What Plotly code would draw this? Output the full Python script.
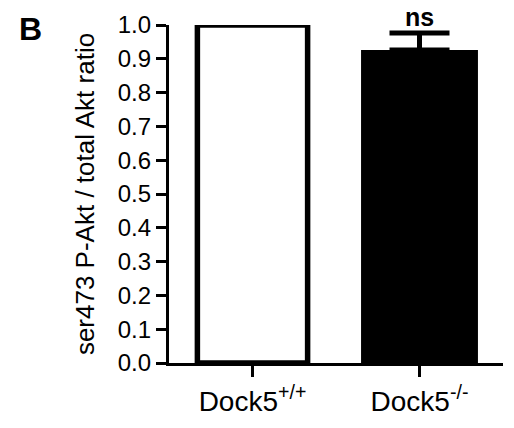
import plotly.graph_objects as go

categories = ["Dock5+/+", "Dock5-/-"]
tick_labels = ["Dock5<sup>+/+</sup>", "Dock5<sup>-/-</sup>"]
values = [1.0, 0.926]
err_up = [0.0, 0.050]
y_ticks = [0.0, 0.1, 0.2, 0.3, 0.4, 0.5, 0.6, 0.7, 0.8, 0.9, 1.0]
y_title = "ser473 P-Akt / total Akt ratio"

FONT = "Liberation Sans, Arial, sans-serif"

fig = go.Figure()
fig.add_trace(go.Bar(
    x=[categories[0]], y=[values[0]], width=0.66,
    marker=dict(color="white", line=dict(color="black", width=5.5)),
    cliponaxis=False, showlegend=False,
))
fig.add_trace(go.Bar(
    x=[categories[1]], y=[values[1]], width=0.70,
    marker=dict(color="black", line=dict(color="black", width=0)),
    error_y=dict(type="data", array=[err_up[1]], arrayminus=[0], symmetric=False,
                 width=30, thickness=5, color="black"),
    cliponaxis=False, showlegend=False,
))

fig.add_annotation(x=categories[1], y=values[1] + err_up[1], text="<b>ns</b>",
                   showarrow=False, yanchor="bottom", yshift=0,
                   font=dict(family=FONT, size=25, color="black"))
fig.add_annotation(xref="paper", yref="paper", x=-0.455, y=0.987, text="<b>B</b>",
                   showarrow=False, xanchor="left", yanchor="middle",
                   font=dict(family=FONT, size=32, color="black"))

fig.update_layout(
    width=514, height=428,
    margin=dict(l=169, r=11, t=21, b=49),
    plot_bgcolor="white", paper_bgcolor="white",
    barmode="overlay",
    font=dict(family=FONT, color="black"),
    xaxis=dict(
        categoryorder="array", categoryarray=categories,
        tickvals=categories, ticktext=tick_labels,
        range=[-0.5, 1.5],
        showline=True, linecolor="black", linewidth=3.2,
        ticks="outside", ticklen=11, tickwidth=3.2, tickcolor="black",
        tickfont=dict(family=FONT, size=28, color="black"),
        showgrid=False, zeroline=False,
    ),
    yaxis=dict(
        range=[0, 1.0], tickvals=y_ticks, tickformat=".1f",
        showline=True, linecolor="black", linewidth=3.2,
        ticks="outside", ticklen=10, tickwidth=3.2, tickcolor="black",
        tickfont=dict(family=FONT, size=24, color="black"),
        showgrid=False, zeroline=False,
        title=dict(text=y_title, font=dict(family=FONT, size=26, color="black"), standoff=16),
    ),
)

fig.write_html("out.html")
